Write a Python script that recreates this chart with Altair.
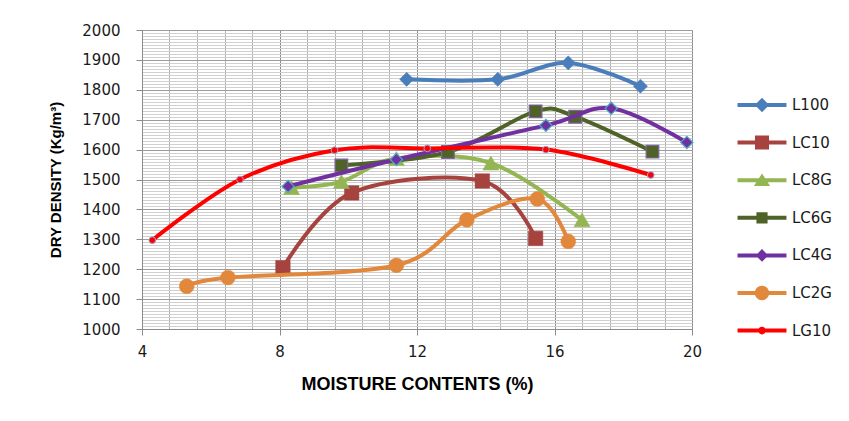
import altair as alt
import pandas as pd

# ---------------- data ----------------
x_ticks = [4, 8, 12, 16, 20]
y_ticks = [1000, 1100, 1200, 1300, 1400, 1500, 1600, 1700, 1800, 1900, 2000]
x_minor = [4, 4.8, 5.6, 6.4, 7.2, 8, 8.8, 9.6, 10.4, 11.2, 12, 12.8, 13.6,
           14.4, 15.2, 16, 16.8, 17.6, 18.4, 19.2, 20]
y_minor = list(range(1000, 2001, 10))

series_names = ["L100", "LC10", "LC8G", "LC6G", "LC4G", "LC2G", "LG10"]

L100_x = [11.7, 14.35, 16.4, 18.5]
L100_y = [1835, 1835, 1890, 1812]

LC10_x = [8.1, 10.1, 13.9, 15.45]
LC10_y = [1205, 1455, 1495, 1303]

LC8G_x = [8.35, 9.8, 11.4, 14.15, 16.8]
LC8G_y = [1473, 1493, 1570, 1555, 1365]

LC6G_x = [9.8, 12.9, 15.45, 16.6, 18.85]
LC6G_y = [1547, 1592, 1728, 1710, 1593]

LC4G_x = [8.25, 11.4, 15.75, 17.65, 19.85]
LC4G_y = [1477, 1567, 1681, 1738, 1624]

LC2G_x = [5.3, 6.5, 11.4, 13.45, 15.5, 16.4]
LC2G_y = [1143, 1172, 1213, 1365, 1435, 1293]

LG10_x = [4.3, 6.85, 9.6, 12.3, 15.75, 18.8]
LG10_y = [1297, 1500, 1598, 1604, 1600, 1515]

series_x = {"L100": L100_x, "LC10": LC10_x, "LC8G": LC8G_x, "LC6G": LC6G_x,
            "LC4G": LC4G_x, "LC2G": LC2G_x, "LG10": LG10_x}
series_y = {"L100": L100_y, "LC10": LC10_y, "LC8G": LC8G_y, "LC6G": LC6G_y,
            "LC4G": LC4G_y, "LC2G": LC2G_y, "LG10": LG10_y}

# ---------------- styles ----------------
styles = {
    "L100": dict(line="#4A7EBB", shape="diamond", size=200, fill="#4A7EBB", stroke="#4A7EBB", sw=0.5),
    "LC10": dict(line="#A6433F", shape="square", size=210, fill="#A6433F", stroke="#A6433F", sw=0.5),
    "LC8G": dict(line="#93B552", shape="triangle-up", size=260, fill="#93B552", stroke="#93B552", sw=0.5),
    "LC6G": dict(line="#4F6228", shape="square", size=160, fill="#4F6228", stroke="#8064A2", sw=1.2),
    "LC4G": dict(line="#7030A0", shape="diamond", size=150, fill="#7030A0", stroke="#4BACC6", sw=1.2),
    "LC2G": dict(line="#E2883C", shape="circle", size=220, fill="#E2883C", stroke="#E2883C", sw=0.5),
    "LG10": dict(line="#FF0000", shape="circle", size=45, fill="#FF0000", stroke="#95A8D8", sw=1.0),
}

L, T = 2.72, 0.22
bar = f"M{-L},{-T}H{L}V{T}H{-L}Z"
legend_paths = {
    "L100": bar + "M0,-0.8L0.8,0L0,0.8L-0.8,0Z",
    "LC10": bar + "M-0.78,-0.78H0.78V0.78H-0.78Z",
    "LC8G": bar + "M0,-0.75L0.9,0.65H-0.9Z",
    "LC6G": bar + "M-0.62,-0.62H0.62V0.62H-0.62Z",
    "LC4G": bar + "M0,-0.7L0.7,0L0,0.7L-0.7,0Z",
    "LC2G": bar + "M-0.8,0A0.8,0.8 0 1 1 0.8,0A0.8,0.8 0 1 1 -0.8,0Z",
    "LG10": bar + "M-0.42,0A0.42,0.42 0 1 1 0.42,0A0.42,0.42 0 1 1 -0.42,0Z",
}

xs = alt.Scale(domain=[4, 20], nice=False, zero=False)
ys = alt.Scale(domain=[1000, 2000], nice=False, zero=False)

tick_font = "DejaVu Sans"
title_font = "Liberation Sans"

anchor_df = pd.DataFrame({"x": [4], "y": [1000]})

minor = alt.Chart(anchor_df).mark_point(opacity=0).encode(
    x=alt.X("x:Q", scale=xs, title=None,
            axis=alt.Axis(orient="top", values=x_minor, grid=True, gridColor="#B0B0B0",
                          gridWidth=1, labels=False, ticks=False, domain=False)),
    y=alt.Y("y:Q", scale=ys, title=None,
            axis=alt.Axis(orient="right", values=y_minor, grid=True, gridColor="#D0D0D0",
                          gridWidth=1, labels=False, ticks=False, domain=False)),
)

major = alt.Chart(anchor_df).mark_point(opacity=0).encode(
    x=alt.X("x:Q", scale=xs,
            axis=alt.Axis(values=x_ticks, grid=True, gridColor="#8C8C8C", gridWidth=1,
                          domainColor="#8C8C8C", tickColor="#8C8C8C", tickSize=6,
                          labelFont=tick_font, labelFontSize=15, labelColor="#1A1A1A",
                          labelPadding=9, labelFlush=False, format="d",
                          title="MOISTURE  CONTENTS (%)", titleFont=title_font,
                          titleFontSize=18, titleFontWeight="bold", titleColor="#000000",
                          titlePadding=16)),
    y=alt.Y("y:Q", scale=ys,
            axis=alt.Axis(values=y_ticks, grid=True, gridColor="#9C9C9C", gridWidth=1,
                          domainColor="#8C8C8C", tickColor="#8C8C8C", tickSize=6,
                          labelFont=tick_font, labelFontSize=15, labelColor="#1A1A1A",
                          labelPadding=16, labelFlush=False, format="d",
                          title="DRY DENSITY (Kg/m³)", titleFont=title_font,
                          titleFontSize=15, titleFontWeight="bold", titleColor="#000000",
                          titlePadding=18)),
)

layers = [minor, major]
for name in series_names:
    st = styles[name]
    df = pd.DataFrame({"x": series_x[name], "y": series_y[name]})
    enc = dict(x=alt.X("x:Q", scale=xs, axis=None), y=alt.Y("y:Q", scale=ys, axis=None))
    line = alt.Chart(df).mark_line(interpolate="cardinal", color=st["line"],
                                   strokeWidth=4).encode(**enc)
    pts = alt.Chart(df).mark_point(shape=st["shape"], size=st["size"], filled=True,
                                   fill=st["fill"], stroke=st["stroke"],
                                   strokeWidth=st["sw"], opacity=1).encode(**enc)
    layers += [line, pts]

legend_df = pd.DataFrame({"series": series_names, "x": [4] * 7, "y": [1000] * 7})
leg_cfg = dict(orient="none", legendX=611, legendY=66, title=None, padding=0,
               symbolSize=324, symbolStrokeWidth=0, symbolOpacity=1,
               labelFont=tick_font, labelFontSize=15, labelColor="#1A1A1A",
               labelOffset=21, rowPadding=20.6)
legend_layer = alt.Chart(legend_df).transform_filter("false").mark_point(
    filled=True, opacity=1).encode(
    x=alt.X("x:Q", scale=xs, axis=None),
    y=alt.Y("y:Q", scale=ys, axis=None),
    color=alt.Color("series:N",
                    scale=alt.Scale(domain=series_names,
                                    range=[styles[n]["line"] for n in series_names]),
                    legend=alt.Legend(**leg_cfg)),
    shape=alt.Shape("series:N",
                    scale=alt.Scale(domain=series_names,
                                    range=[legend_paths[n] for n in series_names]),
                    legend=alt.Legend(**leg_cfg)),
)
layers.append(legend_layer)

chart = alt.layer(*layers).resolve_axis(x="independent", y="independent").properties(
    width=550, height=299,
    autosize=alt.AutoSizeParams(type="none"),
    padding={"left": 134, "top": 22, "right": 149, "bottom": 84},
).configure_view(stroke="#8C8C8C", strokeWidth=1).configure(background="white")

chart.save("out.html", embed_options={"renderer": "svg", "actions": False})
